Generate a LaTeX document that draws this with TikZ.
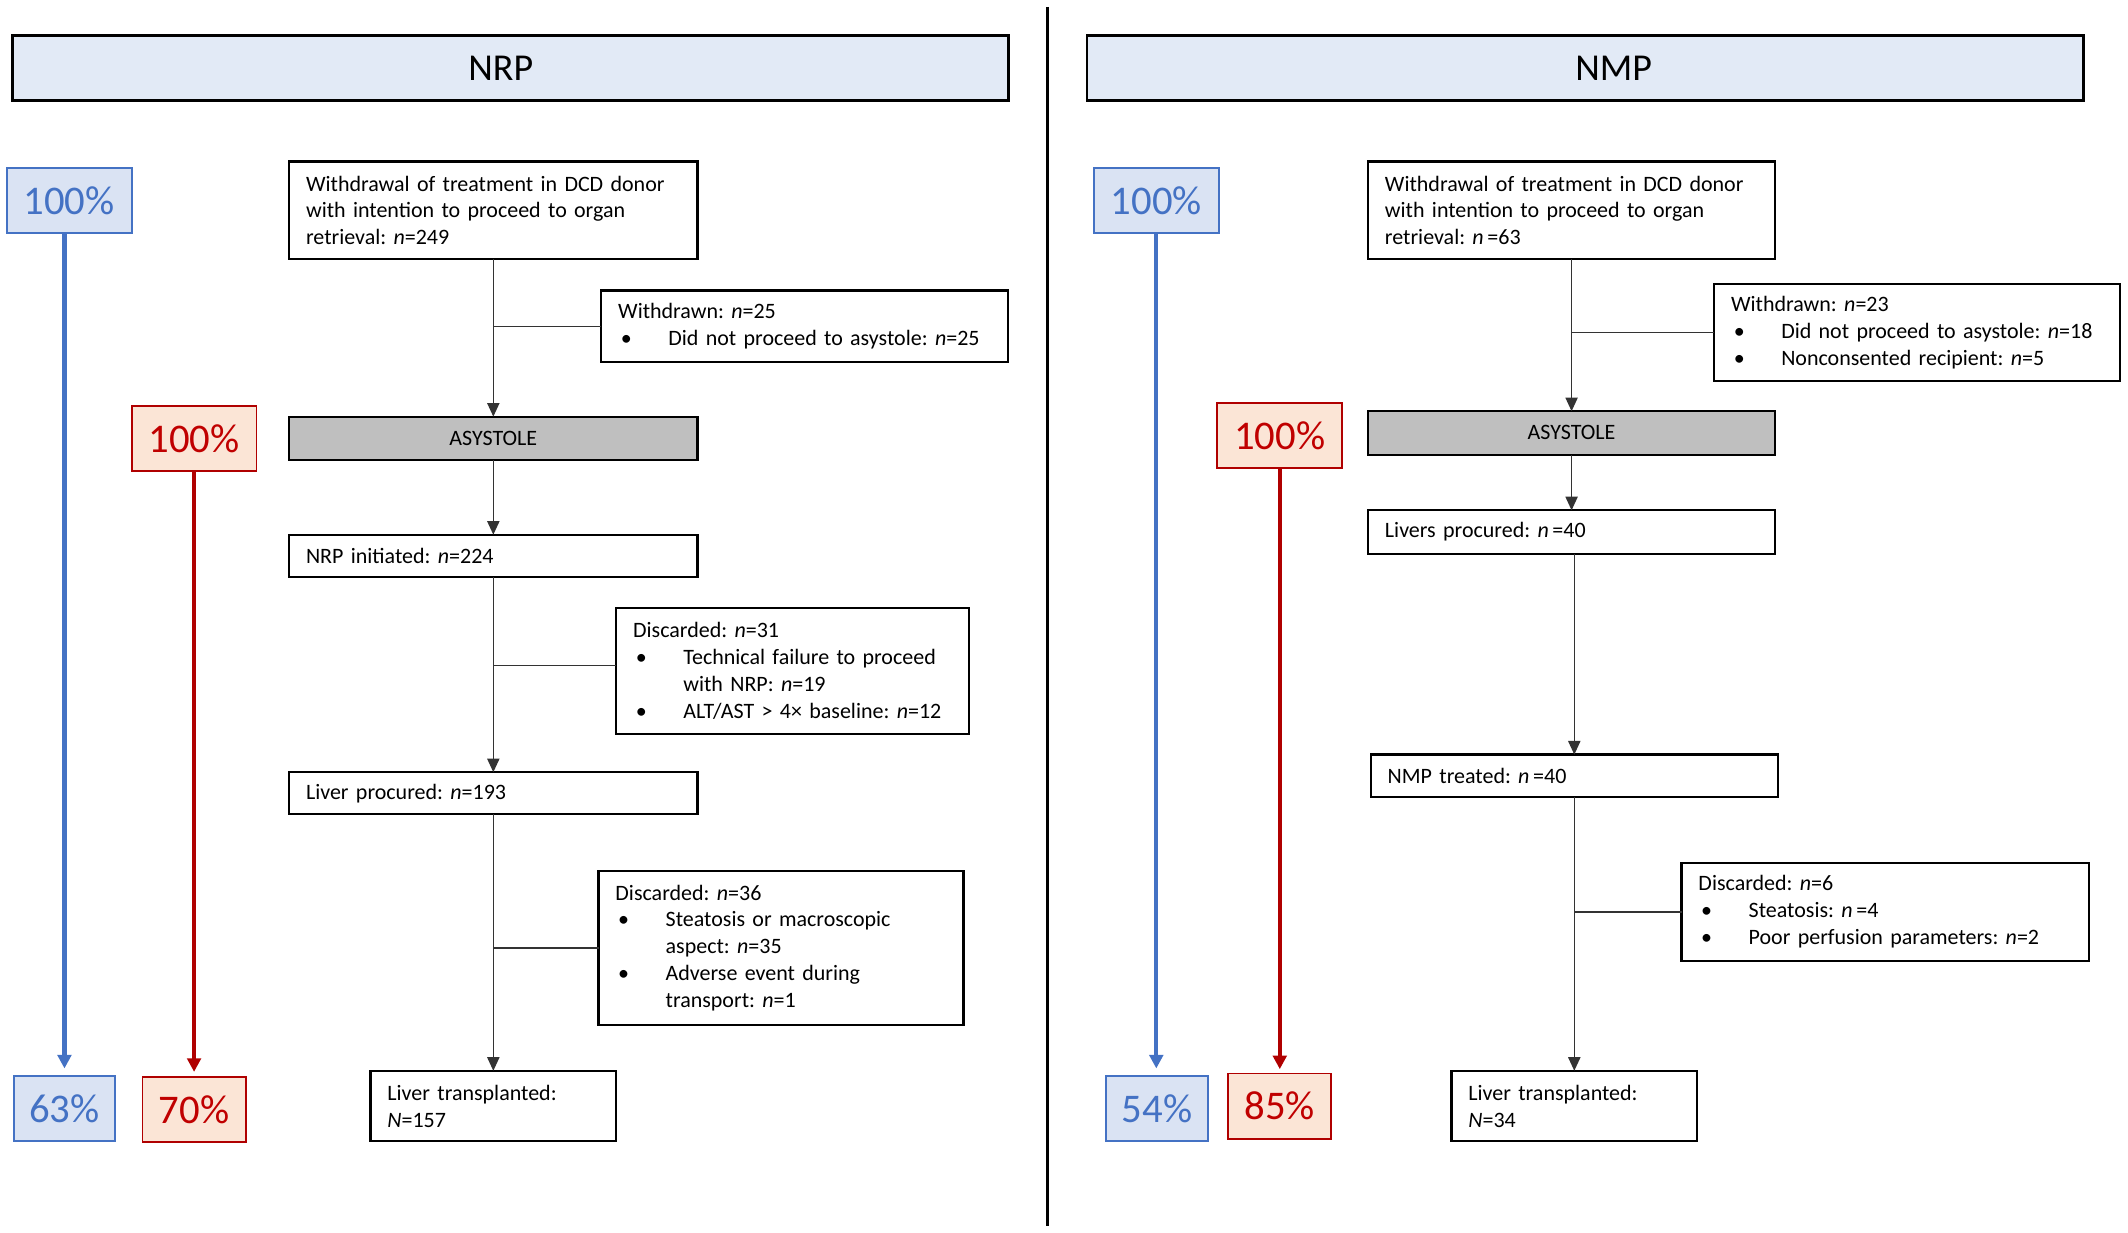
\documentclass[tikz,border=0pt]{standalone}
\usepackage{fontspec}
\setmainfont{Carlito}
\usetikzlibrary{arrows.meta}
\definecolor{hdrfill}{HTML}{E2EAF6}
\definecolor{bluefill}{HTML}{DAE3F3}
\definecolor{bluedraw}{HTML}{4472C4}
\definecolor{redtext}{HTML}{C00000}
\definecolor{redfill}{HTML}{FBE5D6}
\definecolor{reddraw}{HTML}{B00000}
\definecolor{greyfill}{HTML}{BFBFBF}
\newcommand\bitem[1]{\hspace*{1pt}\makebox[17.5pt][l]{•}\mbox{#1}}
\newcommand\bcont[1]{\hspace*{18.5pt}\mbox{#1}}
\newcommand\ii[1]{\textit{#1}}
\frenchspacing
\begin{document}
\begin{tikzpicture}[x=0.5pt,y=-0.5pt,
  base/.style={draw=black, line width=0.8pt, inner sep=0pt, outer sep=0pt,
    font=\fontsize{8.1}{9.9}\selectfont\frenchspacing},
  flow/.style={base, fill=white, align=left, inner xsep=6.25pt},
  grey/.style={base, fill=greyfill, align=center},
  hdr/.style={draw=black, line width=1pt, fill=hdrfill, inner sep=0pt,
    minimum width=367pt, minimum height=24pt},
  hdrtext/.style={font=\fontsize{14}{16}\selectfont},
  bpct/.style={draw=bluedraw, line width=0.7pt, fill=bluefill, text=bluedraw,
    inner sep=0pt, minimum height=24pt, font=\fontsize{15}{18}\selectfont},
  rpct/.style={draw=reddraw, line width=0.7pt, fill=redfill, text=redtext,
    inner sep=0pt, minimum height=24pt, font=\fontsize{15}{18}\selectfont},
  conn/.style={draw=black!80, line width=0.5pt},
  arr/.style={conn, -{Triangle[length=5pt,width=4.5pt]}},
  barrow/.style={draw=bluedraw, line width=1.5pt, -{Triangle[length=5pt,width=5pt]}},
  rarrow/.style={draw=reddraw, line width=1.5pt, -{Triangle[length=5pt,width=5pt]}}
]
\useasboundingbox (0,0) rectangle (1568,908);

% headers and divider
\node[hdr, label={[hdrtext, xshift=-3.5pt]center:NRP}] (hdrL) at (376,50) {};
\node[hdr, label={[hdrtext, xshift=10.5pt]center:NMP}] (hdrR) at (1168,50) {};
\coordinate (divT) at (772,5);
\coordinate (divB) at (772,903);
\draw[line width=1.3pt] (divT) -- (divB);

% ---------------- NRP side ----------------
\node[bpct, minimum width=46pt] (pB1L) at (51,148) {100\%};
\node[bpct, minimum width=37.5pt] (pB2L) at (47.5,817) {63\%};
\node[rpct, minimum width=46pt] (pR1L) at (143,323) {100\%};
\node[rpct, minimum width=38pt] (pR2L) at (143,817.5) {70\%};
\draw[barrow, shorten >=2.5pt] (pB1L.south -| pB2L.north) -- (pB2L.north);
\draw[rarrow, shorten >=1.5pt] (pR1L.south) -- (pR2L.north);

\node[flow, minimum width=150.5pt, text width=138pt, minimum height=36pt] (b1L) at (363.5,155)
  {Withdrawal of treatment in DCD donor\\with intention to proceed to organ\\retrieval: \ii{n}=249};
\node[flow, minimum width=150pt, text width=137.5pt, minimum height=26.5pt] (wL) at (593,240.5)
  {Withdrawn: \ii{n}=25\\\bitem{Did not proceed to asystole: \ii{n}=25}};
\node[grey, minimum width=150.5pt, minimum height=16pt] (aL) at (363.5,323) {ASYSTOLE};
\node[flow, minimum width=150.5pt, text width=138pt, minimum height=15.5pt] (niL) at (363.5,409.5)
  {NRP initiated: \ii{n}=224};
\node[flow, minimum width=130pt, text width=117.5pt, minimum height=46.5pt] (d1L) at (584,494.5)
  {Discarded: \ii{n}=31\\\bitem{Technical failure to proceed}\\\bcont{with NRP: \ii{n}=19}\\\bitem{ALT/AST > 4× baseline: \ii{n}=12}};
\node[flow, minimum width=150.5pt, text width=138pt, minimum height=15.5pt] (lpL) at (363.5,584.5)
  {Liver procured: \ii{n}=193};
\node[flow, minimum width=134.5pt, text width=122pt, minimum height=56.5pt] (d2L) at (575.5,698.5)
  {Discarded: \ii{n}=36\\\bitem{Steatosis or macroscopic}\\\bcont{aspect: \ii{n}=35}\\\bitem{Adverse event during}\\\bcont{transport: \ii{n}=1}};
\node[flow, minimum width=90.5pt, text width=78pt, minimum height=26pt] (ltL) at (363.5,815)
  {Liver transplanted:\\\ii{N}=157};

\draw[arr] (b1L.south) -- (aL.north);
\draw[arr] (aL.south) -- (niL.north);
\draw[arr] (niL.south) -- (lpL.north);
\draw[arr] (lpL.south) -- (ltL.north);
\draw[conn] (wL.west) -- (wL.west -| b1L.south);
\draw[conn] ([yshift=2pt]d1L.west) -- ([yshift=2pt]d1L.west -| niL.south);
\draw[conn] (d2L.west) -- (d2L.west -| lpL.south);

% ---------------- NMP side ----------------
\node[bpct, minimum width=46pt] (pB1R) at (852,148) {100\%};
\node[bpct, minimum width=37.5pt] (pB2R) at (852.5,817) {54\%};
\node[rpct, minimum width=46pt] (pR1R) at (943,321) {100\%};
\node[rpct, minimum width=38pt] (pR2R) at (943,815) {85\%};
\draw[barrow, shorten >=2.5pt] (pB1R.south) -- (pB1R.south |- pB2R.north);
\draw[rarrow, shorten >=1.25pt] (pR1R.south) -- (pR2R.north);

\node[flow, minimum width=150pt, text width=137.5pt, minimum height=36pt] (b1R) at (1158,155)
  {Withdrawal of treatment in DCD donor\\with intention to proceed to organ\\retrieval: \ii{n}\,=63};
\node[flow, minimum width=149.5pt, text width=137pt, minimum height=36pt] (wR) at (1412.5,245)
  {Withdrawn: \ii{n}=23\\\bitem{Did not proceed to asystole: \ii{n}=18}\\\bitem{Nonconsented recipient: \ii{n}=5}};
\node[grey, minimum width=150pt, minimum height=16pt] (aR) at (1158,319) {ASYSTOLE};
\node[flow, minimum width=150pt, text width=137.5pt, minimum height=16pt] (lpR) at (1158,392)
  {Livers procured: \ii{n}\,=40};
\node[flow, minimum width=150pt, text width=137.5pt, minimum height=15.5pt] (ntR) at (1160,571.5)
  {NMP treated: \ii{n}\,=40};
\node[flow, minimum width=150pt, text width=137.5pt, minimum height=36pt] (dR) at (1389,672)
  {Discarded: \ii{n}=6\\\bitem{Steatosis: \ii{n}\,=4}\\\bitem{Poor perfusion parameters: \ii{n}=2}};
\node[flow, minimum width=90.5pt, text width=78pt, minimum height=26pt] (ltR) at (1160,815)
  {Liver transplanted:\\\ii{N}=34};

\draw[arr] (b1R.south) -- (aR.north);
\draw[arr] (aR.south) -- (lpR.north);
\draw[arr] (lpR.south -| ntR.north) -- (ntR.north);
\draw[arr] (ntR.south) -- (ltR.north);
\draw[conn] (wR.west) -- (wR.west -| b1R.south);
\draw[conn] (dR.west) -- (dR.west -| ntR.south);
\end{tikzpicture}
\end{document}
